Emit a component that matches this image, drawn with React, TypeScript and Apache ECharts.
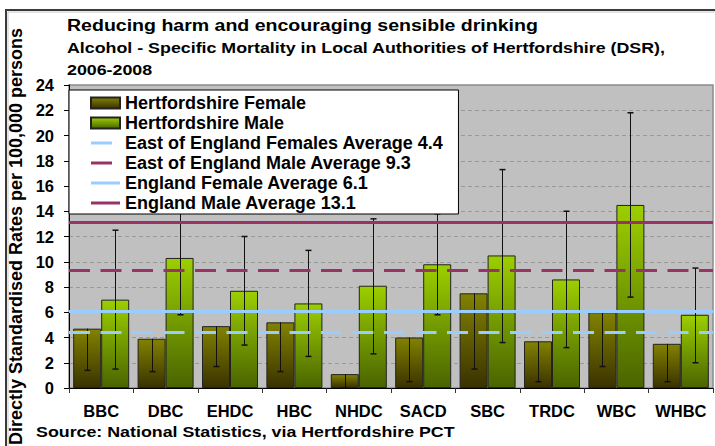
import React, { useEffect, useRef } from "react";
import * as echarts from "echarts";

const categories = ["BBC", "DBC", "EHDC", "HBC", "NHDC", "SACD", "SBC", "TRDC", "WBC", "WHBC"];
const female = [4.7, 3.9, 4.9, 5.2, 1.1, 4.0, 7.5, 3.7, 6.0, 3.5];
const femaleLow = [1.4, 1.3, 1.7, 1.3, 0.0, 0.5, 1.5, 0.5, 1.7, 0.5];
const male = [7.0, 10.3, 7.7, 6.7, 8.1, 9.8, 10.5, 8.6, 14.5, 5.8];
const maleLow = [1.5, 5.8, 3.4, 2.5, 2.7, 5.8, 3.6, 3.2, 7.2, 2.0];
const maleHigh = [12.5, 14.7, 12.0, 10.9, 13.4, 13.8, 17.3, 14.0, 21.8, 9.5];

const avgNames = [
  "East of England Females Average 4.4",
  "East of England Male Average 9.3",
  "England Female Average 6.1",
  "England Male Average 13.1",
];
const avgValues = [4.4, 9.3, 6.1, 13.1];
const avgColors = ["#99CCFF", "#993366", "#99CCFF", "#993366"];
const avgDashed = [true, true, false, false];

const yTicks = { min: 0, max: 24, interval: 2 };

const titleText = "Reducing harm and encouraging sensible drinking";
const subtitle1 = "Alcohol - Specific Mortality in Local Authorities of Hertfordshire (DSR),";
const subtitle2 = "2006-2008";
const sourceText = "Source: National Statistics, via Hertfordshire PCT";
const yName = "Directly Standardised Rates per 100,000 persons";

const FONT = "'Liberation Sans', Arial, sans-serif";

export default function App() {
  const ref = useRef<HTMLDivElement>(null);
  useEffect(() => {
    document.body.style.margin = "0";
    const chart = echarts.init(ref.current!, null, { renderer: "svg" });

    const errRender = (offset: number, capTop: boolean) => (params: any, api: any) => {
      const i = api.value(0);
      const lo = api.coord([i, api.value(1)]);
      const hi = api.coord([i, api.value(2)]);
      const x = Math.round(lo[0] + offset) + 0.5;
      const children: any[] = [
        { type: "line", shape: { x1: x, y1: lo[1], x2: x, y2: hi[1] }, style: { stroke: "#111", lineWidth: 1 } },
        { type: "line", shape: { x1: x - 3, y1: lo[1], x2: x + 3, y2: lo[1] }, style: { stroke: "#111", lineWidth: 1.5 } },
      ];
      if (capTop) {
        children.push({ type: "line", shape: { x1: x - 3, y1: hi[1], x2: x + 3, y2: hi[1] }, style: { stroke: "#111", lineWidth: 1.5 } });
      }
      return { type: "group", children };
    };

    const lineIcon = (w: number) => `path://M0,0M29,11M0,4H${w}V7H0Z`;

    const avgSeries = avgNames.map((name, k) => ({
      name,
      type: "line",
      data: [],
      symbol: "none",
      itemStyle: { color: avgColors[k] },
      lineStyle: { color: avgColors[k], width: 3 },
      z: 3,
      markLine: {
        silent: true,
        symbol: ["none", "none"],
        label: { show: false },
        lineStyle: { color: avgColors[k], width: 3, type: avgDashed[k] ? [21, 10.5] : "solid", opacity: 1 },
        data: [{ yAxis: avgValues[k] }],
      },
    }));

    const option: any = {
      animation: false,
      backgroundColor: "#fff",
      textStyle: { fontFamily: FONT },
      grid: {
        left: 69,
        top: 85,
        right: 2,
        bottom: 58,
        show: true,
        backgroundColor: "#C0C0C0",
        borderColor: "#8a8a8a",
        borderWidth: 1.5,
        containLabel: false,
        outerBoundsMode: "none",
      },
      legend: {
        orient: "vertical",
        left: 69,
        top: 90,
        padding: [4, 15, 2, 21],
        itemGap: 2,
        itemWidth: 29,
        itemHeight: 11,
        backgroundColor: "#fff",
        borderColor: "#000",
        borderWidth: 1,
        z: 10,
        textStyle: { fontSize: 18, fontWeight: "bold", color: "#000", fontFamily: FONT, lineHeight: 18 },
        data: [
          { name: "Hertfordshire Female", icon: "rect" },
          { name: "Hertfordshire Male", icon: "rect" },
          ...avgNames.map((n, k) => ({
            name: n,
            icon: lineIcon(avgDashed[k] ? 21 : 29),
            itemStyle: { color: avgColors[k], borderWidth: 0 },
          })),
        ],
      },
      xAxis: {
        type: "category",
        data: categories,
        axisLine: { lineStyle: { color: "#000", width: 1 } },
        axisTick: { show: true, length: 5, interval: 0, lineStyle: { color: "#333" } },
        axisLabel: { interval: 0, fontSize: 16.5, fontWeight: "bold", color: "#000", margin: 14, fontFamily: FONT },
        splitLine: { show: false },
      },
      yAxis: {
        type: "value",
        min: yTicks.min,
        max: yTicks.max,
        interval: yTicks.interval,
        name: yName,
        nameLocation: "middle",
        nameGap: 42,
        nameTextStyle: { fontSize: 18, fontWeight: "bold", color: "#000", fontFamily: FONT },
        axisLine: { show: true, lineStyle: { color: "#000", width: 1 } },
        axisTick: { show: true, length: 5, lineStyle: { color: "#000" } },
        axisLabel: { fontSize: 16.5, fontWeight: "bold", color: "#000", margin: 15, fontFamily: FONT },
        splitLine: { show: true, lineStyle: { color: "#999", type: [4, 3], width: 1 } },
      },
      series: [
        {
          name: "Hertfordshire Female",
          type: "bar",
          data: female,
          barWidth: 28,
          barGap: "0%",
          itemStyle: {
            color: new echarts.graphic.LinearGradient(0, 0, 0, 1, [
              { offset: 0, color: "#828200" },
              { offset: 1, color: "#3A3200" },
            ]),
            borderColor: "#222",
            borderWidth: 1,
          },
          z: 2,
        },
        {
          name: "Hertfordshire Male",
          type: "bar",
          data: male,
          barWidth: 28,
          barGap: "0%",
          itemStyle: {
            color: new echarts.graphic.LinearGradient(0, 0, 0, 1, [
              { offset: 0, color: "#9CCF00" },
              { offset: 1, color: "#4A6400" },
            ]),
            borderColor: "#222",
            borderWidth: 1,
          },
          z: 2,
        },
        {
          name: "femaleErr",
          type: "custom",
          data: female.map((v, i) => [i, femaleLow[i], v]),
          encode: { x: 0, y: [1, 2] },
          renderItem: errRender(-14, false),
          silent: true,
          z: 4,
        },
        {
          name: "maleErr",
          type: "custom",
          data: male.map((v, i) => [i, maleLow[i], maleHigh[i]]),
          encode: { x: 0, y: [1, 2] },
          renderItem: errRender(14, true),
          silent: true,
          z: 4,
        },
        ...avgSeries,
      ],
      graphic: [
        { type: "rect", shape: { x: 6, y: 10, width: 800, height: 500 }, style: { fill: "none", stroke: "#3a3a3a", lineWidth: 2 }, silent: true },
        { type: "rect", shape: { x: 8, y: 12, width: 800, height: 500 }, style: { fill: "none", stroke: "#c8c8c8", lineWidth: 1 }, silent: true },
        {
          type: "text", x: 67, y: 25, scaleX: 1.15,
          style: { text: titleText, font: `bold 17px ${FONT}`, fill: "#000", textVerticalAlign: "middle", textAlign: "left" },
        },
        {
          type: "text", x: 67, y: 48, scaleX: 1.15,
          style: { text: subtitle1, font: `bold 15.5px ${FONT}`, fill: "#000", textVerticalAlign: "middle", textAlign: "left" },
        },
        {
          type: "text", x: 67, y: 70, scaleX: 1.15,
          style: { text: subtitle2, font: `bold 15.5px ${FONT}`, fill: "#000", textVerticalAlign: "middle", textAlign: "left" },
        },
        {
          type: "text", x: 36, y: 432, scaleX: 1.15,
          style: { text: sourceText, font: `bold 15.5px ${FONT}`, fill: "#000", textVerticalAlign: "middle", textAlign: "left" },
        },
      ],
    };
    chart.setOption(option);
    return () => chart.dispose();
  }, []);
  return <div ref={ref} style={{ position: "absolute", left: 0, top: 0, width: 715, height: 446 }} />;
}
